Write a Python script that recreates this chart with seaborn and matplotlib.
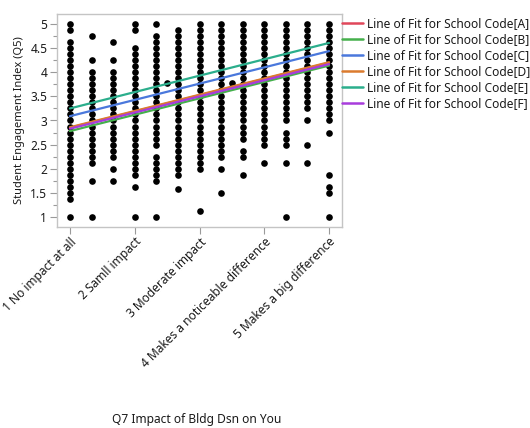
import matplotlib
matplotlib.use("Agg")
import matplotlib.pyplot as plt
import seaborn as sns
import pandas as pd
from matplotlib.ticker import MultipleLocator

sns.set_theme(style="white")
plt.rcParams["font.family"] = ["Noto Sans", "DejaVu Sans"]

# Q7 response categories (x positions 1..5)
category_positions = [1, 2, 3, 4, 5]
category_labels = [
    "1 No impact at all",
    "2 Samll impact",
    "3 Moderate impact",
    "4 Makes a noticeable difference",
    "5 Makes a big difference",
]
y_ticks = [1, 1.5, 2, 2.5, 3, 3.5, 4, 4.5, 5]
y_tick_labels = ["1", "1.5", "2", "2.5", "3", "3.5", "4", "4.5", "5"]

# Observed students: Q7 score (mean of items) and engagement index values
col_x = [1, 4/3, 5/3, 2, 7/3, 8/3, 3, 10/3, 11/3, 4, 13/3, 14/3, 5]
col_y = [
    [5, 4.875, 4.625, 4.5, 4.375, 4.25, 4.125, 4, 3.875, 3.75, 3.625, 3.5, 3.375, 3.25,
     3.125, 3, 2.875, 2.75, 2.625, 2.5, 2.375, 2.25, 2.125, 2, 1.875, 1.75, 1.625, 1.5,
     1.375, 1],
    [4.75, 4.25, 4, 3.875, 3.75, 3.625, 3.5, 3.375, 3.25, 3.125, 3, 2.875, 2.75, 2.625,
     2.5, 2.375, 2.25, 2.125, 1.75, 1],
    [4.625, 4.25, 4, 3.875, 3.75, 3.625, 3.5, 3.375, 3.25, 3.125, 3, 2.875, 2.75, 2.625,
     2.5, 2.375, 2.25, 2, 1.75],
    [5, 4.875, 4.5, 4.375, 4.25, 4.125, 4, 3.875, 3.75, 3.625, 3.5, 3.375, 3.25, 3.125,
     3, 2.875, 2.75, 2.625, 2.5, 2.375, 2.25, 2.125, 2, 1.875, 1.625, 1],
    [5, 4.75, 4.625, 4.5, 4.375, 4.25, 4.125, 4, 3.875, 3.75, 3.625, 3.5, 3.375, 3.25,
     3.125, 3, 2.875, 2.75, 2.625, 2.5, 2.25, 2.125, 2, 1.875, 1.75, 1],
    [4.875, 4.75, 4.625, 4.5, 4.375, 4.25, 4.125, 4, 3.875, 3.75, 3.625, 3.5, 3.375,
     3.25, 3.125, 3, 2.875, 2.75, 2.625, 2.5, 2.375, 2.25, 2.125, 2, 1.875, 1.58],
    [5, 4.875, 4.75, 4.625, 4.5, 4.375, 4.25, 4.125, 4, 3.875, 3.75, 3.625, 3.5, 3.375,
     3.25, 3.125, 3, 2.875, 2.75, 2.625, 2.5, 2.375, 2.25, 2.125, 2, 1.125],
    [5, 4.875, 4.75, 4.625, 4.5, 4.375, 4.25, 4.125, 4, 3.875, 3.75, 3.625, 3.5, 3.375,
     3.25, 3.125, 3, 2.875, 2.75, 2.625, 2.5, 2.375, 2.25, 2, 1.5],
    [5, 4.875, 4.75, 4.625, 4.5, 4.375, 4.25, 4.125, 4, 3.875, 3.75, 3.625, 3.5, 3.375,
     3.25, 3.125, 3, 2.875, 2.75, 2.625, 2.375, 2.25, 1.875],
    [5, 4.875, 4.75, 4.625, 4.5, 4.375, 4.25, 4.125, 4, 3.875, 3.75, 3.625, 3.5, 3.375,
     3.25, 3.125, 3, 2.875, 2.75, 2.625, 2.5, 2.125],
    [5, 4.875, 4.75, 4.625, 4.5, 4.375, 4.25, 4.125, 4, 3.875, 3.75, 3.625, 3.5, 3.375,
     3.25, 3.125, 3, 2.75, 2.625, 2.5, 2.125, 1],
    [5, 4.875, 4.75, 4.625, 4.5, 4.375, 4.25, 4.125, 4, 3.875, 3.75, 3.625, 3.5, 3.375,
     3.25, 3, 2.5, 2.125],
    [5, 4.875, 4.75, 4.625, 4.5, 4.375, 4.25, 4.125, 4, 3.875, 3.75, 3.625, 3.5, 3.375,
     3.25, 3.125, 3, 2.75, 1.875, 1.625, 1.5, 1],
]
extra_x = [2.5, 3.5]
extra_y = [3.77, 3.77]

# Line of fit per school code (values at x=1 and x=5)
schools = ["A", "B", "C", "D", "E", "F"]
fit_x = [1, 5]
fit_start = [2.85, 2.78, 3.09, 2.86, 3.25, 2.83]
fit_end = [4.20, 4.14, 4.44, 4.21, 4.61, 4.17]
school_colors = ["#E0475A", "#45B04C", "#4A78DC", "#DB7B2E", "#2BAE8C", "#A83CDC"]

pts = pd.DataFrame(
    [(x, y) for x, ys in zip(col_x, col_y) for y in ys] + list(zip(extra_x, extra_y)),
    columns=["q7", "q5"],
)
fits = pd.DataFrame(
    [(f"Line of Fit for School Code[{s}]", fx, y)
     for s, y0, y1 in zip(schools, fit_start, fit_end)
     for fx, y in zip(fit_x, (y0, y1))],
    columns=["fit", "q7", "q5"],
)

fig = plt.figure(figsize=(5.30, 4.28), dpi=100)
ax = fig.add_axes([57 / 530, 1 - 227 / 428, 285 / 530, 213 / 428])

sns.scatterplot(data=pts, x="q7", y="q5", ax=ax, color="black", s=23,
                linewidth=0, zorder=3)
palette = {f"Line of Fit for School Code[{s}]": c for s, c in zip(schools, school_colors)}
sns.lineplot(data=fits, x="q7", y="q5", hue="fit", palette=palette, ax=ax,
             linewidth=1.6, zorder=4, legend=True)

ax.set_xlim(0.8, 5.2)
ax.set_ylim(0.79, 5.21)
ax.set_yticks(y_ticks)
ax.set_yticklabels(y_tick_labels)
ax.yaxis.set_minor_locator(MultipleLocator(0.25))
ax.set_xticks(category_positions)
ax.set_xticklabels(category_labels, rotation=45, ha="right", va="top",
                   rotation_mode="anchor")
ax.tick_params(axis="both", which="major", direction="out", length=5, width=0.8,
               color="#9A9A9A", labelsize=8.6, labelcolor="#1A1A1A", pad=2,
               left=True, bottom=True)
ax.tick_params(axis="x", which="major", pad=1)
ax.tick_params(axis="y", which="minor", direction="out", length=3, width=0.8,
               color="#9A9A9A", left=True)
for sp in ax.spines.values():
    sp.set_color("#C4C4C4")
    sp.set_linewidth(1.0)

ax.set_xlabel("")
ax.set_ylabel("Student Engagement Index (Q5)", fontsize=8.0, color="#1A1A1A",
              labelpad=4)
fig.text(197 / 530, 1 - 420 / 428, "Q7 Impact of Bldg Dsn on You", ha="center",
         va="center", fontsize=8.6, color="#1A1A1A")

leg = ax.legend(loc="upper left", bbox_to_anchor=(1.0, 1 - 3 / 213),
                frameon=False, fontsize=8.6, handlelength=1.75, handletextpad=0.35,
                labelspacing=0.25, borderaxespad=0.0, borderpad=0.0)
for t in leg.get_texts():
    t.set_color("#1A1A1A")
for h in leg.get_lines():
    h.set_linewidth(1.8)

fig.savefig("out.png", dpi=100)
